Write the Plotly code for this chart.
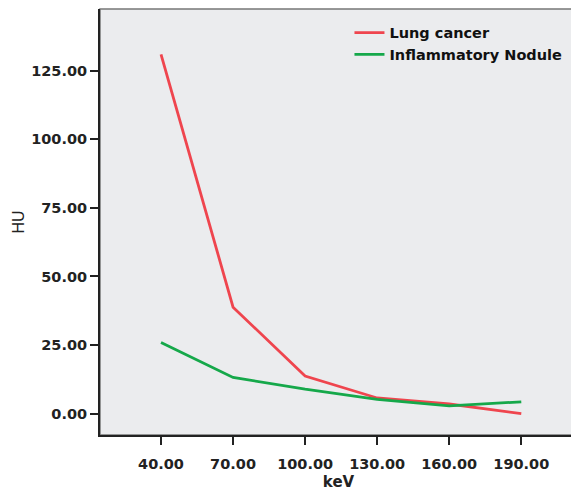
import plotly.graph_objects as go

kev = [40, 70, 100, 130, 160, 190]
lung_cancer = [131.0, 38.8, 13.7, 5.7, 3.5, 0.0]
inflammatory_nodule = [25.9, 13.2, 8.9, 5.2, 2.8, 4.3]
x_ticks = [40, 70, 100, 130, 160, 190]
y_ticks = [0, 25, 50, 75, 100, 125]

BOLD = "DejaVu Sans"

fig = go.Figure()
fig.add_trace(go.Scatter(x=kev, y=lung_cancer, mode="lines", name="Lung cancer",
                         line=dict(color="#EF454E", width=2.8)))
fig.add_trace(go.Scatter(x=kev, y=inflammatory_nodule, mode="lines", name="Inflammatory Nodule",
                         line=dict(color="#15A84A", width=2.8)))

fig.update_layout(
    width=571, height=483,
    margin=dict(l=92, r=2, t=1, b=56),
    paper_bgcolor="white",
    plot_bgcolor="#EBECEE",
    showlegend=True,
    legend=dict(x=0.523, y=0.982, xanchor="left", yanchor="top",
                bgcolor="rgba(0,0,0,0)",
                font=dict(family=BOLD, size=14.5, color="#111", weight="bold"),
                itemwidth=30, tracegroupgap=0),
    shapes=[dict(type="rect", xref="paper", yref="paper", x0=0, x1=1, y0=0, y1=1,
                 line=dict(color="#777", width=1.5), layer="below")],
)
fig.update_xaxes(
    range=[14.6, 213.2], tickvals=x_ticks, tickformat=".2f",
    showgrid=False, zeroline=False,
    showline=True, linecolor="#222", linewidth=2,
    ticks="outside", ticklen=8, tickwidth=2, tickcolor="#222",
    ticklabelstandoff=7,
    tickfont=dict(family=BOLD, size=14.5, color="#222", weight="bold"),
    title=dict(text="keV", font=dict(family=BOLD, size=15, color="#222", weight="bold"), standoff=6),
)
fig.update_yaxes(
    range=[-7.8, 147.5], tickvals=y_ticks, tickformat=".2f",
    showgrid=False, zeroline=False,
    showline=True, linecolor="#222", linewidth=2,
    ticks="outside", ticklen=8, tickwidth=2, tickcolor="#222",
    tickfont=dict(family=BOLD, size=14.5, color="#222", weight="bold"),
    title=dict(text="HU", font=dict(family="Liberation Sans", size=16, color="#222"), standoff=3),
)

fig.write_html("out.html")
